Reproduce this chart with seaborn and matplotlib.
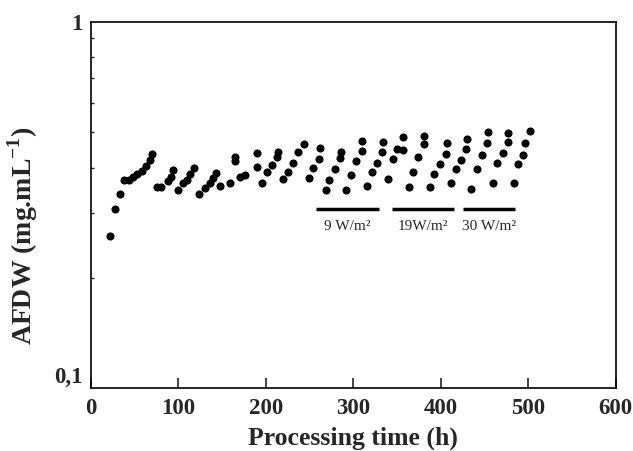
import matplotlib
matplotlib.use("Agg")
import matplotlib.pyplot as plt
import matplotlib.ticker as mticker
import seaborn as sns
import pandas as pd

# Data
time_h = [21.7, 27.4, 33.2, 38.1, 43.8, 48.4, 52.9, 58.0, 62.9, 67.5, 69.4,
          75.1, 80.5, 88.0, 92.0, 94.0,
          99.8, 105.5, 109.5, 113.5, 118.1,
          123.8, 130.3, 136.1, 139.8, 142.9,
          147.0, 158.5, 164.3, 165.0,
          170.4, 176.5, 189.5, 189.5,
          195.2, 200.9, 206.6, 212.3, 214.2,
          219.2, 224.9, 230.6, 237.0, 243.2,
          249.3, 254.2, 260.7, 261.8,
          268.3, 272.5, 278.6, 284.7, 285.5,
          291.2, 297.3, 302.6, 309.5, 310.2,
          315.2, 320.9, 326.7, 333.1, 333.5,
          339.2, 345.7, 349.5, 357.1, 357.1,
          363.9, 368.5, 374.2, 380.7, 381.1,
          387.6, 392.5, 399.0, 405.9, 406.7,
          411.3, 417.3, 423.1, 428.8, 429.6,
          434.6, 441.0, 446.7, 452.5, 453.6,
          460.0, 464.6, 470.7, 476.4, 477.1,
          483.6, 488.6, 494.3, 496.2, 502.0]
afdw = [0.261, 0.308, 0.339, 0.370, 0.370, 0.378, 0.384, 0.392, 0.404, 0.420, 0.435,
        0.353, 0.354, 0.368, 0.378, 0.394,
        0.347, 0.362, 0.371, 0.385, 0.400,
        0.339, 0.351, 0.362, 0.374, 0.387,
        0.356, 0.364, 0.417, 0.428,
        0.376, 0.381, 0.401, 0.438,
        0.364, 0.388, 0.407, 0.428, 0.442,
        0.373, 0.390, 0.412, 0.440, 0.464,
        0.374, 0.398, 0.421, 0.453,
        0.347, 0.370, 0.396, 0.424, 0.442,
        0.347, 0.382, 0.418, 0.445, 0.474,
        0.356, 0.390, 0.412, 0.442, 0.469,
        0.372, 0.421, 0.449, 0.447, 0.484,
        0.354, 0.390, 0.428, 0.463, 0.488,
        0.353, 0.384, 0.409, 0.435, 0.468,
        0.364, 0.396, 0.419, 0.449, 0.478,
        0.350, 0.396, 0.433, 0.466, 0.501,
        0.364, 0.412, 0.438, 0.470, 0.498,
        0.364, 0.409, 0.433, 0.468, 0.504]

x_ticks = [0, 100, 200, 300, 400, 500, 600]
y_ticks = [0.1, 1]
y_tick_labels = ["0,1", "1"]

period_labels = ["9 W/m\u00b2", "19W/m\u00b2", "30 W/m\u00b2"]
period_start = [257.3, 343.8, 425.0]
period_end = [329.6, 415.0, 484.6]

df = pd.DataFrame({"time": time_h, "afdw": afdw})

sns.set_style("white")
plt.rcParams["font.family"] = ["Liberation Serif", "DejaVu Serif"]
plt.rcParams["mathtext.fontset"] = "custom"
plt.rcParams["mathtext.rm"] = "Liberation Serif"
plt.rcParams["mathtext.bf"] = "Liberation Serif:bold"

fig = plt.figure(figsize=(6.33, 4.51), dpi=100)
ax = fig.add_axes([0.1438, 0.139, 0.829, 0.813])

sns.scatterplot(data=df, x="time", y="afdw", ax=ax, color="black",
                s=34, edgecolor="black", linewidth=0, legend=False)

ax.set_yscale("log")
ax.set_xlim(0, 600)
ax.set_ylim(0.1, 1)
ax.set_xticks(x_ticks)
ax.set_xticklabels([str(t) for t in x_ticks], fontsize=16.5, fontweight="bold")
ax.yaxis.set_major_locator(mticker.FixedLocator(y_ticks))
ax.yaxis.set_major_formatter(mticker.FixedFormatter(y_tick_labels))
ax.yaxis.set_minor_locator(mticker.FixedLocator([0.2, 0.3, 0.4, 0.5, 0.6, 0.7, 0.8, 0.9]))
ax.yaxis.set_minor_formatter(mticker.NullFormatter())

ax.tick_params(axis="x", which="major", direction="in", length=7, width=1.2, bottom=True, top=False, pad=7)
ax.tick_params(axis="y", which="major", direction="in", length=0, width=1.2, left=True, right=False, pad=6)
ax.tick_params(axis="y", which="minor", direction="in", length=2.5, width=1, left=True, right=False)

for lab in ax.get_yticklabels():
    lab.set_fontsize(16.5)
    lab.set_fontweight("bold")
    if lab.get_text() == "0,1":
        lab.set_va("bottom")

for sp in ax.spines.values():
    sp.set_visible(True)
    sp.set_color("black")
    sp.set_linewidth(1.2)

ax.set_xlabel("Processing time (h)", fontsize=18.5, fontweight="bold")
ax.xaxis.set_label_coords(0.5, -0.105)
ax.set_ylabel("AFDW (mg.mL$^{\\mathbf{-1}}$)", fontsize=20, fontweight="bold")
ax.yaxis.set_label_coords(-0.097, 0.417)

bar_y = 0.308
text_y = 0.276
for lab, s, e in zip(period_labels, period_start, period_end):
    ax.plot([s, e], [bar_y, bar_y], color="black", lw=2.5, solid_capstyle="butt")
    ax.text((s + e) / 2, text_y, lab, ha="center", va="center", fontsize=11)

ax.grid(False)
fig.savefig("out.png", dpi=100)
